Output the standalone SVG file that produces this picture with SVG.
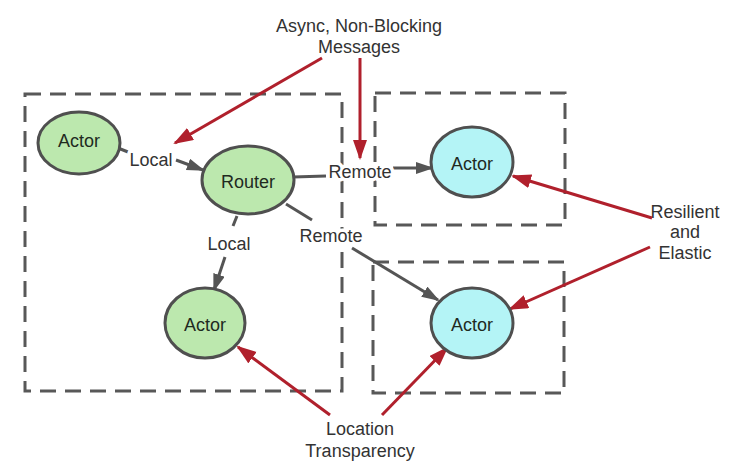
<svg xmlns="http://www.w3.org/2000/svg" width="736" height="470" viewBox="0 0 736 470">
<style>
.box{fill:none;stroke:#585858;stroke-width:3;stroke-dasharray:16 9}
.green{fill:#bce8ae;stroke:#4f4f4f;stroke-width:3}
.cyan{fill:#b4f4f6;stroke:#4f4f4f;stroke-width:3}
.nt{font-family:"Liberation Sans",Arial,sans-serif;font-size:18px;fill:#1f2a1f;text-anchor:middle}
.lbl{font-family:"Liberation Sans",Arial,sans-serif;font-size:18px;fill:#333;text-anchor:middle}
.cl{stroke:#fff;stroke-width:7;paint-order:stroke;stroke-linejoin:round}
.gl{fill:none;stroke:#555;stroke-width:3}
.rl{fill:none;stroke:#b0202c;stroke-width:3}
</style>
<defs>
<marker id="ga" markerUnits="userSpaceOnUse" markerWidth="20" markerHeight="14" refX="16" refY="6" orient="auto"><path d="M0,0 L18,6 L0,12 z" fill="#555"/></marker>
<marker id="ra" markerUnits="userSpaceOnUse" markerWidth="22" markerHeight="16" refX="18" refY="7" orient="auto"><path d="M0,0 L20,7 L0,14 z" fill="#b0202c"/></marker>
</defs>
<rect width="736" height="470" fill="#fff"/>
<g id="zones">
<rect class="box" x="25" y="94" width="317" height="297"/>
<rect class="box" x="375" y="93" width="190" height="132"/>
<rect class="box" x="373" y="262" width="191" height="131"/>
</g>
<g id="connectors">
<path class="gl" d="M118,148 L128,152"/>
<path class="gl" d="M176,160 L203,170" marker-end="url(#ga)"/>
<path class="gl" d="M293,177 L326,176"/>
<path class="gl" d="M393,168 L432,168" marker-end="url(#ga)"/>
<path class="gl" d="M237,216 L233,226"/>
<path class="gl" d="M225,257 L214,290" marker-end="url(#ga)"/>
<path class="gl" d="M286,204 L312,220"/>
<path class="gl" d="M352,248 L438,300" marker-end="url(#ga)"/>
<path class="rl" d="M322,58 L175,143" marker-end="url(#ra)"/>
<path class="rl" d="M360,58 L360,158" marker-end="url(#ra)"/>
<path class="rl" d="M652,218 L513,176" marker-end="url(#ra)"/>
<path class="rl" d="M650,247 L510,309" marker-end="url(#ra)"/>
<path class="rl" d="M330,415 L238,347" marker-end="url(#ra)"/>
<path class="rl" d="M382,415 L447,348" marker-end="url(#ra)"/>
<text class="lbl cl" x="151" y="166">Local</text>
<text class="lbl cl" x="360" y="178">Remote</text>
<text class="lbl cl" x="229" y="250">Local</text>
<text class="lbl cl" x="331" y="242">Remote</text>
</g>
<g id="actor1"><ellipse class="green" cx="79" cy="143" rx="41" ry="31"/><text class="nt" x="79" y="147">Actor</text></g>
<g id="router"><ellipse class="green" cx="248" cy="180" rx="46" ry="34"/><text class="nt" x="248" y="188">Router</text></g>
<g id="actor2"><ellipse class="green" cx="205" cy="323" rx="40" ry="35"/><text class="nt" x="205" y="331">Actor</text></g>
<g id="actor3"><ellipse class="cyan" cx="472" cy="162" rx="41" ry="35"/><text class="nt" x="472" y="170">Actor</text></g>
<g id="actor4"><ellipse class="cyan" cx="472" cy="323" rx="41" ry="35"/><text class="nt" x="472" y="331">Actor</text></g>
<g id="notes">
<text class="lbl" x="359" y="32">Async, Non-Blocking</text>
<text class="lbl" x="359" y="53">Messages</text>
<text class="lbl" x="685" y="218">Resilient</text>
<text class="lbl" x="685" y="238">and</text>
<text class="lbl" x="685" y="259">Elastic</text>
<text class="lbl" x="360" y="435">Location</text>
<text class="lbl" x="360" y="457">Transparency</text>
</g>
</svg>
